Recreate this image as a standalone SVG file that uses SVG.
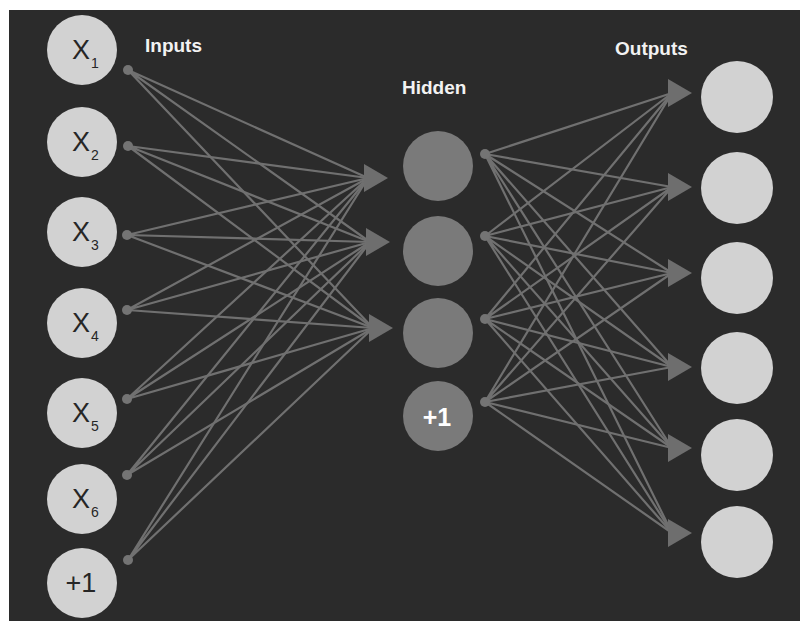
<svg xmlns="http://www.w3.org/2000/svg" xmlns:xlink="http://www.w3.org/1999/xlink" width="800" height="621" viewBox="0 0 800 621">
<style>
.bg{fill:#2b2b2b}
.light{fill:#d2d2d2}
.mid{fill:#7a7a7a}
.dot{fill:#747474}
.ln{stroke:#707070;stroke-width:2.2;fill:none}
.ah{fill:#6e6e6e}
.title{font-family:"Liberation Sans",Arial,sans-serif;font-weight:bold;font-size:19px;fill:#f2f2f2}
.xl{font-family:"Liberation Sans",Arial,sans-serif;font-size:27px;fill:#262626}
.sub{font-family:"Liberation Sans",Arial,sans-serif;font-size:14px;fill:#262626}
.hl{font-family:"Liberation Sans",Arial,sans-serif;font-size:25px;font-weight:bold;fill:#ffffff}
</style>
<defs>
<path id="ah" d="M0,0 L-24,-14 L-24,14 Z"/>
</defs>
<rect x="0" y="0" width="800" height="621" fill="#ffffff"/>
<rect class="bg" x="9" y="10" width="791" height="611"/>

<g id="labels">
<text class="title" x="145" y="52">Inputs</text>
<text class="title" x="402" y="94">Hidden</text>
<text class="title" x="615" y="55">Outputs</text>
</g>

<g id="connectors">
<g class="ln">
<path d="M128,70 L368,178 M128,70 L370,242 M128,70 L373,328"/>
<path d="M128,146 L368,178 M128,146 L370,242 M128,146 L373,328"/>
<path d="M127,235 L368,178 M127,235 L370,242 M127,235 L373,328"/>
<path d="M127,310 L368,178 M127,310 L370,242 M127,310 L373,328"/>
<path d="M127,399 L368,178 M127,399 L370,242 M127,399 L373,328"/>
<path d="M127,475 L368,178 M127,475 L370,242 M127,475 L373,328"/>
<path d="M128,560 L368,178 M128,560 L370,242 M128,560 L373,328"/>
<path d="M485,154 L672,93 M485,154 L672,187 M485,154 L672,273 M485,154 L672,367 M485,154 L672,448 M485,154 L672,533"/>
<path d="M485,236 L672,93 M485,236 L672,187 M485,236 L672,273 M485,236 L672,367 M485,236 L672,448 M485,236 L672,533"/>
<path d="M485,319 L672,93 M485,319 L672,187 M485,319 L672,273 M485,319 L672,367 M485,319 L672,448 M485,319 L672,533"/>
<path d="M485,402 L672,93 M485,402 L672,187 M485,402 L672,273 M485,402 L672,367 M485,402 L672,448 M485,402 L672,533"/>
</g>
<g class="ah">
<use xlink:href="#ah" x="388" y="178"/>
<use xlink:href="#ah" x="390" y="242"/>
<use xlink:href="#ah" x="393" y="328"/>
<use xlink:href="#ah" x="692" y="93"/>
<use xlink:href="#ah" x="692" y="187"/>
<use xlink:href="#ah" x="692" y="273"/>
<use xlink:href="#ah" x="692" y="367"/>
<use xlink:href="#ah" x="692" y="448"/>
<use xlink:href="#ah" x="692" y="533"/>
</g>
</g>

<g id="in1"><circle class="light" cx="82" cy="50" r="35"/><text class="xl" x="81" y="59" text-anchor="middle">X</text><text class="sub" x="91" y="68">1</text><circle class="dot" cx="128" cy="70" r="5"/></g>
<g id="in2"><circle class="light" cx="82" cy="142" r="35"/><text class="xl" x="81" y="151" text-anchor="middle">X</text><text class="sub" x="91" y="160">2</text><circle class="dot" cx="128" cy="146" r="5"/></g>
<g id="in3"><circle class="light" cx="82" cy="232" r="35"/><text class="xl" x="81" y="241" text-anchor="middle">X</text><text class="sub" x="91" y="250">3</text><circle class="dot" cx="127" cy="235" r="5"/></g>
<g id="in4"><circle class="light" cx="82" cy="323" r="35"/><text class="xl" x="81" y="332" text-anchor="middle">X</text><text class="sub" x="91" y="341">4</text><circle class="dot" cx="127" cy="310" r="5"/></g>
<g id="in5"><circle class="light" cx="82" cy="413" r="35"/><text class="xl" x="81" y="422" text-anchor="middle">X</text><text class="sub" x="91" y="431">5</text><circle class="dot" cx="127" cy="399" r="5"/></g>
<g id="in6"><circle class="light" cx="82" cy="499" r="35"/><text class="xl" x="81" y="508" text-anchor="middle">X</text><text class="sub" x="91" y="517">6</text><circle class="dot" cx="127" cy="475" r="5"/></g>
<g id="inBias"><circle class="light" cx="82" cy="583" r="35"/><text class="xl" x="81" y="592" text-anchor="middle">+1</text><circle class="dot" cx="128" cy="560" r="5"/></g>

<g id="h1"><circle class="mid" cx="438" cy="166" r="35"/><circle class="dot" cx="485" cy="154" r="5"/></g>
<g id="h2"><circle class="mid" cx="438" cy="251" r="35"/><circle class="dot" cx="485" cy="236" r="5"/></g>
<g id="h3"><circle class="mid" cx="438" cy="333" r="35"/><circle class="dot" cx="485" cy="319" r="5"/></g>
<g id="hBias"><circle class="mid" cx="438" cy="416" r="35"/><text class="hl" x="437" y="426" text-anchor="middle">+1</text><circle class="dot" cx="485" cy="402" r="5"/></g>

<g id="o1"><circle class="light" cx="737" cy="97" r="36"/></g>
<g id="o2"><circle class="light" cx="737" cy="188" r="36"/></g>
<g id="o3"><circle class="light" cx="737" cy="278" r="36"/></g>
<g id="o4"><circle class="light" cx="737" cy="368" r="36"/></g>
<g id="o5"><circle class="light" cx="737" cy="455" r="36"/></g>
<g id="o6"><circle class="light" cx="737" cy="542" r="36"/></g>
</svg>
